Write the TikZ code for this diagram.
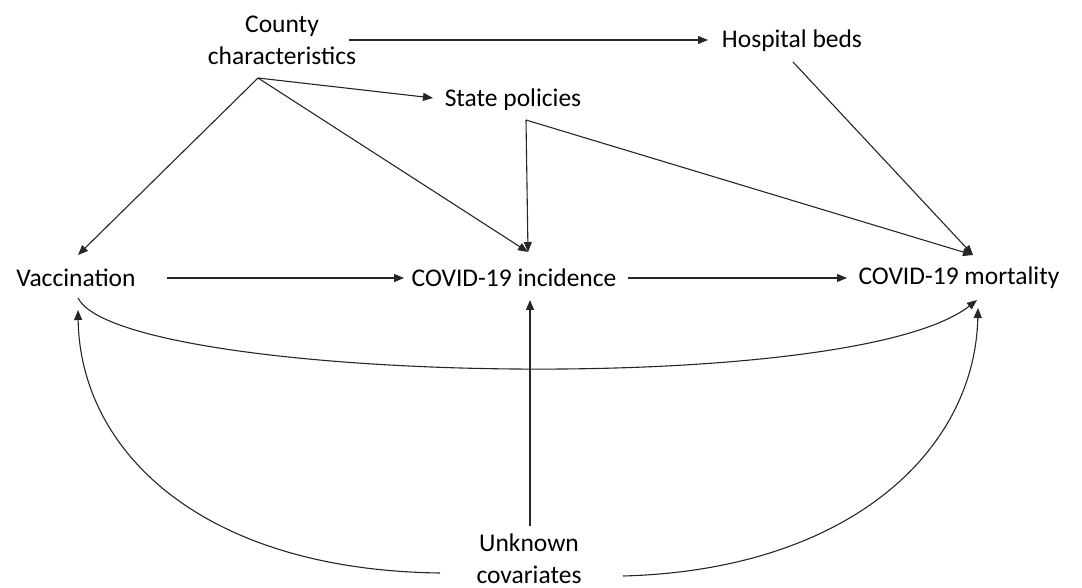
\documentclass[tikz,border=0pt]{standalone}
\usepackage{fontspec}
\setmainfont{Carlito}
\usetikzlibrary{arrows.meta}
\usetikzlibrary{calc}
\tikzset{dagp/.style={
  x=0.5pt,
  y=-0.5pt
}}
\tikzset{dagn/.style={
  font=\fontsize{12.75}{16}\selectfont,
  align=center,
  inner sep=0pt
}}
\tikzset{dagl/.style={draw,line width=0.55pt,black!85}}
\tikzset{dage/.style={dagl,-{Triangle[length=5pt,width=4pt]}}}

\begin{document}
\begin{tikzpicture}[dagp]
    \useasboundingbox (0,0) rectangle (1082,588);

    % Nodes
    \node[dagn] (county) at (282,40) {County\\characteristics};
    \node[dagn] (hosp) at (792,41) {Hospital beds};
    \node[dagn] (state) at (513,100) {State policies};
    \node[dagn] (vacc) at (76,278) {Vaccination};
    \node[dagn] (incid) at (514,278) {COVID-19 incidence};
    \node[dagn] (mort) at (959,278) {COVID-19 mortality};
    \node[dagn] (unk) at (529,559) {Unknown\\covariates};

    % From county characteristics
    \draw[dage] ($(county)+(67,0)$) -- ($(hosp)+(-84,-1)$);
    \draw[dage] ($(county)+(-24,38)$) -- ($(state)+(-80,-2)$);
    \draw[dage] ($(county)+(-24,38)$) -- ($(vacc)+(2,-23)$);
    \draw[dage] ($(county)+(-24,38)$) -- ($(incid)+(14,-26)$);

    % From state policies and hospital beds
    \draw[dage] ($(state)+(13,20)$) -- ($(incid)+(14,-26)$);
    \draw[dage] ($(state)+(13,20)$) -- ($(mort)+(14,-23)$);
    \draw[dage] ($(hosp)+(1,21)$) -- ($(mort)+(14,-23)$);

    % Main row
    \draw[dage] ($(vacc)+(91,0)$) -- ($(incid)+(-110,0)$);
    \draw[dage] ($(incid)+(114,0)$) -- ($(mort)+(-112,0)$);
    \draw[dage] ($(vacc)+(2,20)$)
      .. controls (120,382) and (850,400) .. ($(mort)+(18,22)$);

    % From unknown covariates
    \draw[dage] ($(unk)+(1,-33)$) -- ($(incid)+(16,22)$);
    \draw[dage] ($(unk)+(-89,14)$)
      .. controls (200,570) and (80,450) .. ($(vacc)+(2,32)$);
    \draw[dage] ($(unk)+(94,17)$)
      .. controls (850,570) and (975,450) .. ($(mort)+(19,30)$);

  \end{tikzpicture}
\end{document}
